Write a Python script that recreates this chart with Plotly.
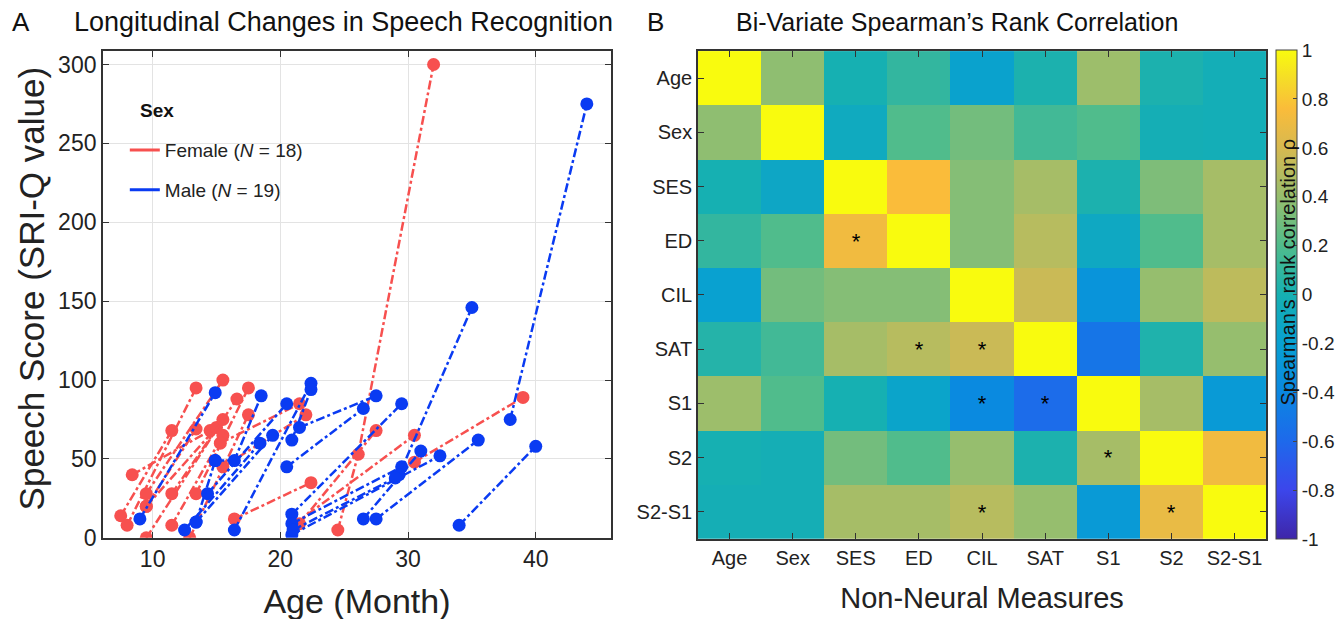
import plotly.graph_objects as go

# ---------------- Panel A data (one list per subject) ----------------
female_ages = [
    [7.5, 11.5], [8.0, 13.4], [8.4, 14.5], [9.5, 15.5], [9.5, 15.0],
    [9.5, 15.5], [11.5, 16.6], [11.5, 15.5], [12.9, 17.5], [13.4, 17.5],
    [15.5, 22.0], [16.4, 22.4], [24.5, 26.1, 32.0], [21.5, 27.5],
    [21.0, 30.5], [30.5, 39.0], [15.3, 21.5], [9.5, 13.4],
]
female_scores = [
    [14, 68], [8, 95], [40, 68], [28, 100], [20, 70],
    [0, 75], [28, 88], [8, 65], [0, 78], [28, 95],
    [45, 78], [12, 35], [5, 53, 300], [9, 68],
    [8, 65], [48, 89], [60, 85], [20, 69],
]
male_ages = [
    [9.0, 14.9], [12.5, 18.4], [13.4, 19.4], [14.3, 20.5], [14.9, 16.4, 18.5],
    [16.4, 22.4], [20.5, 26.5], [21.5, 27.5], [20.9, 22.4], [20.9, 29.5],
    [20.9, 29.5], [20.9, 32.5], [29.3, 35.0], [26.5, 31.0], [27.5, 35.5],
    [34.0, 40.0], [38.0, 44.0], [13.4, 14.9], [21.0, 29.0],
]
male_scores = [
    [12, 92], [5, 60], [10, 65], [28, 85], [49, 49, 90],
    [5, 98], [45, 82], [70, 90], [62, 94], [15, 85],
    [9, 45], [2, 52], [40, 146], [12, 55], [12, 62],
    [8, 58], [75, 275], [10, 49], [5, 38],
]
x_ticks_a = [10, 20, 30, 40]
y_ticks_a = [0, 50, 100, 150, 200, 250, 300]

# ---------------- Panel B data ----------------
measures = ["Age", "Sex", "SES", "ED", "CIL", "SAT", "S1", "S2", "S2-S1"]
rho = [
    [1.00, 0.38, 0.00, 0.10, -0.17, 0.02, 0.42, 0.02, -0.03],
    [0.38, 1.00, -0.08, 0.20, 0.30, 0.15, 0.20, -0.02, -0.03],
    [0.00, -0.12, 1.00, 0.76, 0.35, 0.45, 0.02, 0.33, 0.45],
    [0.10, 0.20, 0.72, 1.00, 0.35, 0.50, -0.10, 0.20, 0.45],
    [-0.19, 0.30, 0.35, 0.35, 1.00, 0.56, -0.30, 0.40, 0.52],
    [0.05, 0.15, 0.45, 0.50, 0.56, 1.00, -0.52, 0.03, 0.40],
    [0.42, 0.20, 0.00, -0.15, -0.38, -0.58, 1.00, 0.45, -0.25],
    [0.00, -0.02, 0.30, 0.20, 0.40, 0.02, 0.45, 1.00, 0.72],
    [-0.02, -0.02, 0.45, 0.45, 0.50, 0.40, -0.25, 0.68, 1.00],
]
stars = [
    ["", "", "", "", "", "", "", "", ""],
    ["", "", "", "", "", "", "", "", ""],
    ["", "", "", "", "", "", "", "", ""],
    ["", "", "*", "", "", "", "", "", ""],
    ["", "", "", "", "", "", "", "", ""],
    ["", "", "", "*", "*", "", "", "", ""],
    ["", "", "", "", "*", "*", "", "", ""],
    ["", "", "", "", "", "", "*", "", ""],
    ["", "", "", "", "*", "", "", "*", ""],
]
cb_ticks = [-1, -0.8, -0.6, -0.4, -0.2, 0, 0.2, 0.4, 0.6, 0.8, 1]

parula = [
    [0.0, "rgb(62,38,168)"],
    [0.1, "rgb(60,70,235)"],
    [0.2, "rgb(30,105,235)"],
    [0.3, "rgb(10,135,225)"],
    [0.4, "rgb(8,160,210)"],
    [0.5, "rgb(22,176,178)"],
    [0.6, "rgb(80,188,140)"],
    [0.7, "rgb(150,190,110)"],
    [0.8, "rgb(215,185,80)"],
    [0.88, "rgb(250,188,58)"],
    [0.94, "rgb(245,220,40)"],
    [1.0, "rgb(249,251,14)"],
]

RED = "#F7504F"
BLUE = "#0A3BF2"
FONT = "Liberation Sans, Arial, sans-serif"
W, H = 1340, 633      # figure size
RH = 619              # reference height used for fractional placement


def fy(px):
    """paper fraction for a vertical position given in reference pixels from top"""
    return 1 - px / RH


fig = go.Figure()

for ages, scores in zip(female_ages, female_scores):
    fig.add_trace(go.Scatter(
        x=ages, y=scores, mode="lines+markers", showlegend=False,
        line=dict(color=RED, width=2.5, dash="dashdot"),
        marker=dict(color=RED, size=13), xaxis="x", yaxis="y", hoverinfo="skip"))
for ages, scores in zip(male_ages, male_scores):
    fig.add_trace(go.Scatter(
        x=ages, y=scores, mode="lines+markers", showlegend=False,
        line=dict(color=BLUE, width=2.5, dash="dashdot"),
        marker=dict(color=BLUE, size=13), xaxis="x", yaxis="y", hoverinfo="skip"))

fig.add_trace(go.Scatter(x=[None], y=[None], mode="lines", name="Female (<i>N</i> = 18)",
                         line=dict(color=RED, width=3), legendgroup="f", xaxis="x", yaxis="y"))
fig.add_trace(go.Scatter(x=[None], y=[None], mode="lines", name="Male (<i>N</i> = 19)",
                         line=dict(color=BLUE, width=3), legendgroup="m", xaxis="x", yaxis="y"))

fig.add_trace(go.Heatmap(
    z=rho, x=measures, y=measures, text=stars, texttemplate="%{text}",
    textfont=dict(size=22, color="black", family=FONT),
    colorscale=parula, zmin=-1, zmax=1, xaxis="x2", yaxis="y2",
    xgap=0, ygap=0, showscale=True, hoverinfo="skip",
    colorbar=dict(
        x=1278 / W, xanchor="left", xpad=0, ypad=0,
        y=fy(50), yanchor="top", len=488 / RH, lenmode="fraction",
        thickness=21, outlinecolor="#444", outlinewidth=1,
        tickvals=cb_ticks, ticktext=[("%g" % v) for v in cb_ticks],
        ticks="inside", ticklen=4, tickcolor="#444",
        tickfont=dict(size=19, color="#222", family=FONT),
    ),
))

axis_common = dict(showline=True, linecolor="#333", linewidth=1.5, mirror="ticks",
                   ticks="inside", tickcolor="#333", ticklen=6, zeroline=False)

fig.update_layout(
    width=W, height=H,
    margin=dict(l=0, r=0, t=0, b=0),
    paper_bgcolor="white", plot_bgcolor="white",
    font=dict(family=FONT, color="#222"),
    xaxis=dict(domain=[103 / W, 612 / W], range=[6.1, 45.9], tickvals=x_ticks_a,
               showgrid=True, gridcolor="#E3E3E3", gridwidth=1,
               tickfont=dict(size=23, color="#222"),
               title=dict(text="Age (Month)", font=dict(size=34, color="#222"), standoff=18),
               anchor="y", **axis_common),
    yaxis=dict(domain=[fy(537), fy(51)], range=[0, 308.5], tickvals=y_ticks_a,
               showgrid=True, gridcolor="#E3E3E3", gridwidth=1,
               tickfont=dict(size=23, color="#222"),
               anchor="x", **axis_common),
    xaxis2=dict(domain=[699 / W, 1268 / W], tickfont=dict(size=20, color="#222"),
                title=dict(text="Non-Neural Measures", font=dict(size=29, color="#222"), standoff=20),
                anchor="y2", showgrid=False, **axis_common),
    yaxis2=dict(domain=[fy(538), fy(51)], autorange="reversed", tickfont=dict(size=20, color="#222"),
                anchor="x2", showgrid=False, **axis_common),
    legend=dict(x=125 / W, y=fy(131), xanchor="left", yanchor="top",
                bgcolor="rgba(0,0,0,0)", borderwidth=0,
                font=dict(size=19, color="#222"), tracegroupgap=12, itemwidth=30),
    annotations=[
        dict(text="A", x=10 / W, y=fy(22), xref="paper", yref="paper",
             showarrow=False, xanchor="left", yanchor="middle", font=dict(size=26, color="#111")),
        dict(text="Longitudinal Changes in Speech Recognition", x=344 / W, y=fy(22),
             xref="paper", yref="paper", showarrow=False, xanchor="center", yanchor="middle",
             font=dict(size=27, color="#111")),
        dict(text="B", x=646 / W, y=fy(22), xref="paper", yref="paper",
             showarrow=False, xanchor="left", yanchor="middle", font=dict(size=26, color="#111")),
        dict(text="Bi-Variate Spearman\u2019s Rank Correlation", x=958 / W, y=fy(22),
             xref="paper", yref="paper", showarrow=False, xanchor="center", yanchor="middle",
             font=dict(size=25, color="#111")),
        dict(text="Speech Score (SRI-Q value)", x=32 / W, y=fy(288), xref="paper", yref="paper",
             showarrow=False, textangle=-90, xanchor="center", yanchor="middle",
             font=dict(size=35, color="#222")),
        dict(text="<b>Sex</b>", x=138 / W, y=fy(110), xref="paper", yref="paper",
             showarrow=False, xanchor="left", yanchor="middle", font=dict(size=19, color="#111")),
        dict(text="Spearman\u2019s rank correlation \u03c1", x=1290 / W, y=fy(272),
             xref="paper", yref="paper", showarrow=False, textangle=-90,
             xanchor="center", yanchor="middle", font=dict(size=20, color="#111")),
    ],
)

fig.write_html(
    "out.html",
    config={"displayModeBar": False},
    post_script="document.documentElement.style.margin='0';document.body.style.margin='0';"
                "document.documentElement.style.overflow='hidden';document.body.style.overflow='hidden';",
)
